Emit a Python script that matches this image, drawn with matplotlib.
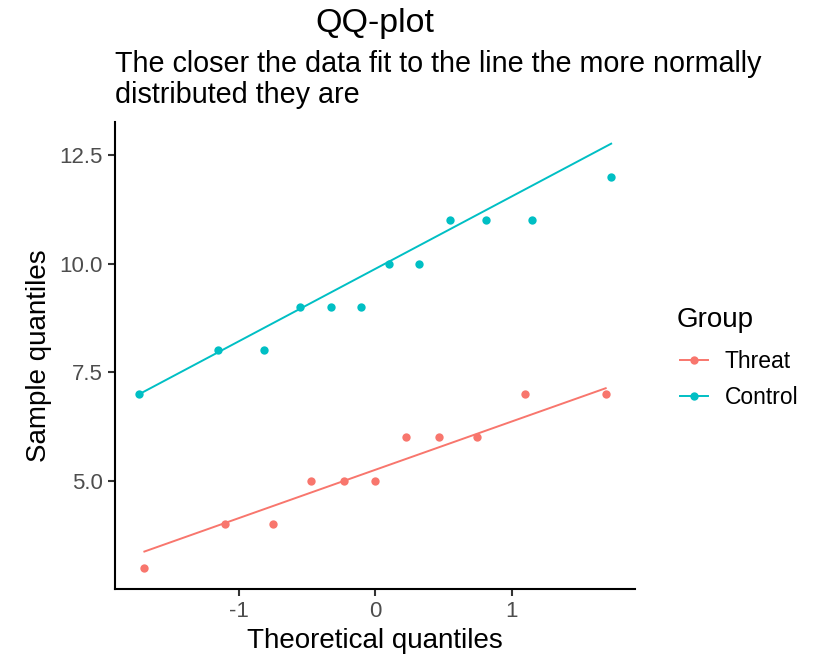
import matplotlib
matplotlib.use('Agg')
import matplotlib.pyplot as plt

plt.rcParams['font.family'] = ['Liberation Sans', 'DejaVu Sans']

# Threat group: theoretical vs sample quantiles
threat_theo = [-1.69, -1.10, -0.75, -0.47, -0.23, 0.0, 0.23, 0.47, 0.75, 1.10, 1.69]
threat_samp = [3, 4, 4, 5, 5, 5, 6, 6, 6, 7, 7]
threat_line_x = [-1.69, 1.69]
threat_line_y = [3.37, 7.13]

# Control group
control_theo = [-1.73, -1.15, -0.81, -0.55, -0.32, -0.10, 0.10, 0.32, 0.55, 0.81, 1.15, 1.73]
control_samp = [7, 8, 8, 9, 9, 9, 10, 10, 11, 11, 11, 12]
control_line_x = [-1.73, 1.73]
control_line_y = [6.99, 12.76]

x_ticks = [-1, 0, 1]
y_ticks = [5.0, 7.5, 10.0, 12.5]

RED = '#F8766D'
TEAL = '#00BFC4'

fig = plt.figure(figsize=(8.13, 6.58), dpi=100)
ax = fig.add_axes([0.1415, 0.105, 0.6396, 0.709])

handles = []
for theo, samp, lx, ly, col, lab in [
    (threat_theo, threat_samp, threat_line_x, threat_line_y, RED, 'Threat'),
    (control_theo, control_samp, control_line_x, control_line_y, TEAL, 'Control'),
]:
    ax.plot(lx, ly, color=col, linewidth=1.4, zorder=2)
    ax.plot(theo, samp, linestyle='none', marker='o', markersize=6,
            color=col, markeredgewidth=0, zorder=3)
    # legend handle
    h, = ax.plot([], [], color=col, linewidth=1.4, marker='o', markersize=6,
                 markeredgewidth=0, label=lab)
    handles.append(h)

ax.set_xlim(-1.905, 1.905)
ax.set_ylim(2.51, 13.25)
ax.set_xticks(x_ticks)
ax.set_xticklabels(['-1', '0', '1'])
ax.set_yticks(y_ticks)
ax.set_yticklabels(['5.0', '7.5', '10.0', '12.5'])

for side in ['top', 'right']:
    ax.spines[side].set_visible(False)
for side in ['left', 'bottom']:
    ax.spines[side].set_linewidth(1.5)
ax.tick_params(axis='both', length=5, width=1.5, color='#333333',
               labelsize=16, labelcolor='#4D4D4D', pad=4)

ax.set_xlabel('Theoretical quantiles', fontsize=20, labelpad=4)
ax.set_ylabel('Sample quantiles', fontsize=20, labelpad=5)

fig.text(0.4613, 0.951, 'QQ-plot', fontsize=24.5, ha='center', va='baseline')
# va='baseline' pins the last line here
fig.text(0.1415, 0.843, 'The closer the data fit to the line the more normally\n'
         'distributed they are', fontsize=20.7, ha='left', va='baseline',
         linespacing=1.17)

# legend
fig.text(677 / 813, 1 - 327 / 658, 'Group', fontsize=20, ha='left', va='baseline')
fig.legend(handles=handles, loc='center left',
           bbox_to_anchor=(680 / 813, 1 - 379.5 / 658),
           bbox_transform=fig.transFigure, frameon=False, fontsize=16.5,
           borderpad=0, borderaxespad=0, handlelength=1.22,
           handletextpad=0.72, labelspacing=0.55)

fig.savefig('out.png', dpi=100)
